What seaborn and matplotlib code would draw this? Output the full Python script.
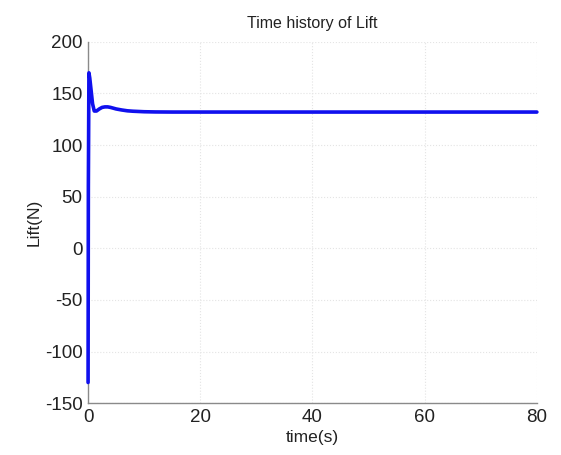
import matplotlib
matplotlib.use("Agg")
import matplotlib.pyplot as plt
import seaborn as sns
import pandas as pd

# Lift response sampled over the simulation time
time_s = [0, 0.05, 0.15, 0.3, 0.5, 0.8, 1.1, 1.5, 2.0, 2.5, 3.0, 3.5, 4.0,
          5.0, 6.0, 7.0, 8.0, 10.0, 12.0, 15.0, 20.0, 30.0, 40.0, 50.0,
          60.0, 70.0, 80.0]
lift_n = [-130, 60, 170, 165, 155, 140, 133, 133, 135, 136.5, 137, 137,
          136.5, 135, 134, 133.2, 132.8, 132.3, 132.1, 132, 132, 132, 132,
          132, 132, 132, 132]

x_ticks = [0, 20, 40, 60, 80]
y_ticks = [-150, -100, -50, 0, 50, 100, 150, 200]

sns.set_style("whitegrid", {
    "grid.color": "#e4e4e4",
    "grid.linestyle": ":",
    "axes.edgecolor": "#8a8a8a",
})
plt.rcParams["font.family"] = ["Liberation Sans", "DejaVu Sans"]
plt.rcParams["axes.unicode_minus"] = False

df = pd.DataFrame({"time(s)": time_s, "Lift(N)": lift_n})

fig = plt.figure(figsize=(5.61, 4.55), dpi=100)
ax = fig.add_axes([0.157, 0.114, 0.800, 0.794])

sns.lineplot(data=df, x="time(s)", y="Lift(N)", color="#1010ee",
             linewidth=2.6, ax=ax, zorder=5, clip_on=False)

ax.set_xlim(0, 80)
ax.set_ylim(-150, 200)
ax.set_xticks(x_ticks)
ax.set_yticks(y_ticks)
ax.tick_params(axis="both", labelsize=13.5, colors="#222222", direction="in",
               length=3, width=0.8, pad=4)
ax.tick_params(axis="both", color="#8a8a8a")
ax.grid(True, linewidth=0.8)

for side in ["top", "right"]:
    ax.spines[side].set_visible(False)
for side in ["left", "bottom"]:
    ax.spines[side].set_linewidth(1.0)

ax.set_xlabel("time(s)", fontsize=12.5, color="#222222", labelpad=3)
ax.set_ylabel("Lift(N)", fontsize=12.5, color="#222222", labelpad=2)
ax.set_title("Time history of Lift", fontsize=11.5, color="#222222", pad=10)

fig.savefig("out.png", dpi=100)
